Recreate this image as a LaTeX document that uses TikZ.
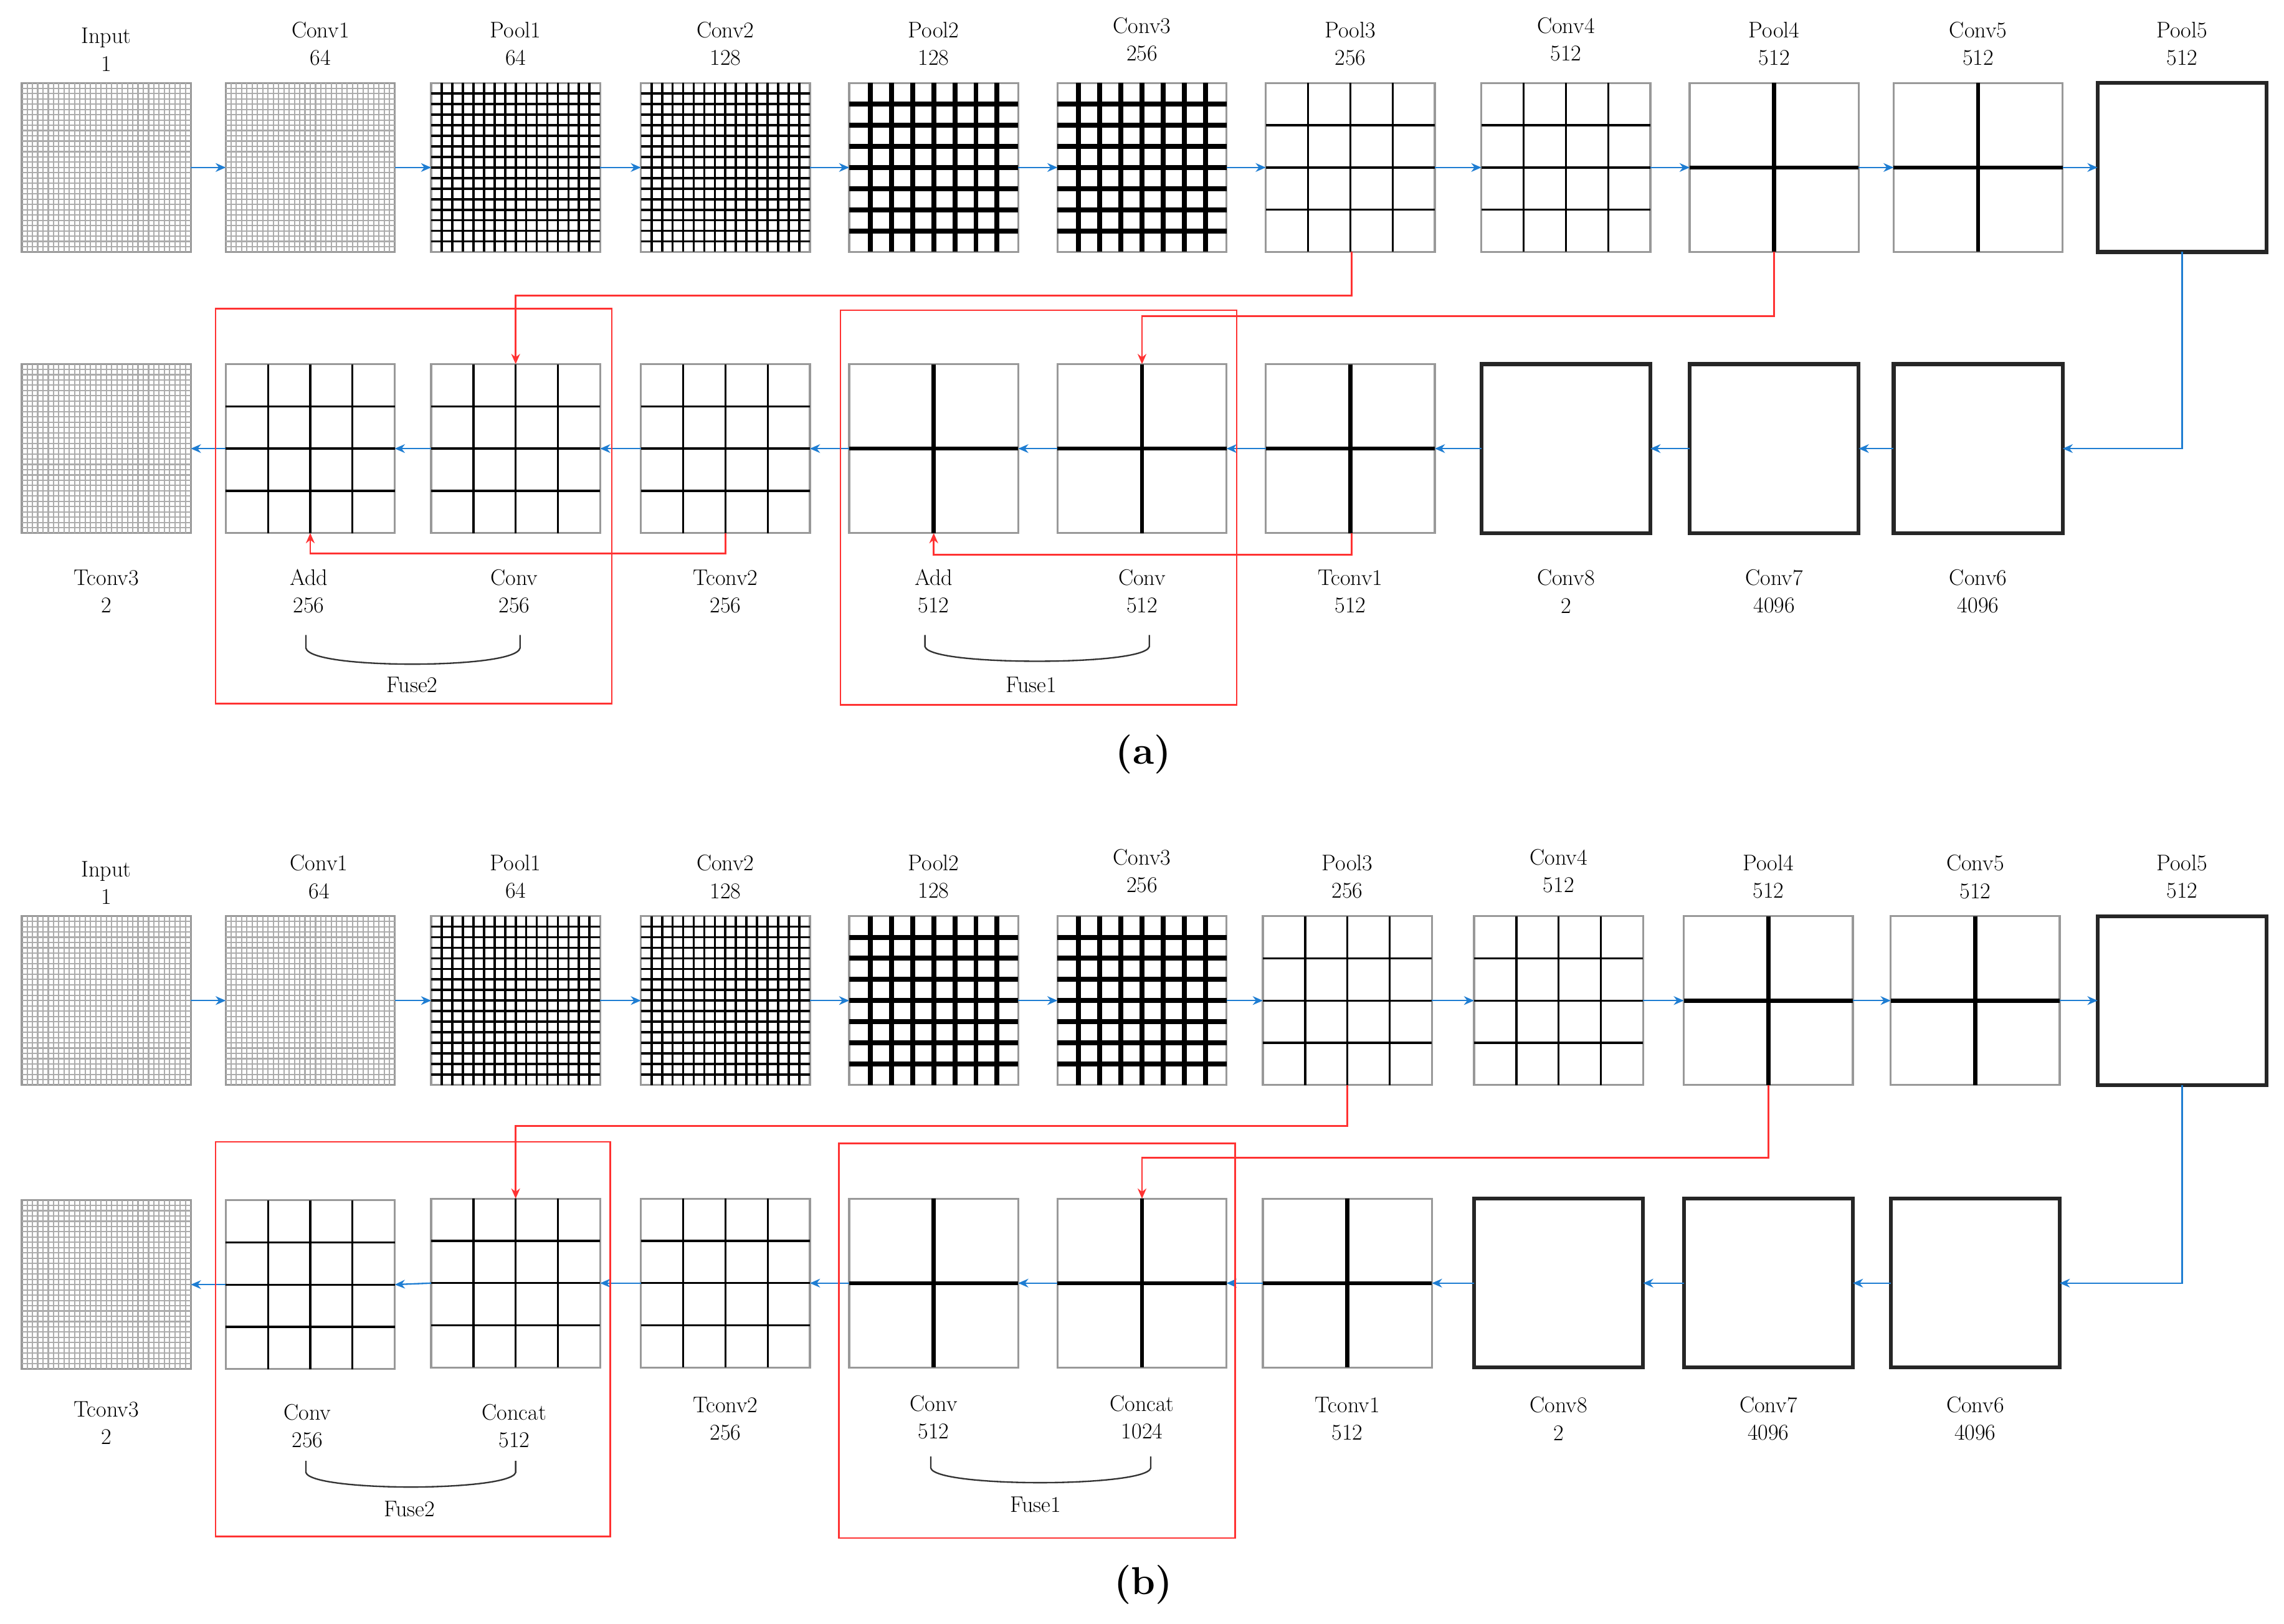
\documentclass[tikz,border=0pt]{standalone}
\usetikzlibrary{calc,arrows.meta}
\definecolor{blu}{RGB}{30,125,210}
\definecolor{rd}{RGB}{255,50,50}
\tikzset{
 fmap/.style={draw=gray!80,line width=0.07cm,minimum size=5.8cm,inner sep=0,outer sep=0},
 lbl/.style={font=\fontsize{22}{27}\selectfont,align=center,inner sep=0},
 barr/.style={draw=blu,line width=0.05cm,-{Stealth[length=0.35cm,width=0.3cm]}},
 rarr/.style={draw=rd,line width=0.06cm,-{Stealth[length=0.35cm,width=0.3cm]}},
 rbox/.style={draw=rd,line width=0.06cm},
 brace/.style={draw=black!80,line width=0.05cm},
 subcap/.style={font=\fontsize{38}{40}\selectfont\bfseries,inner sep=0},
 gA/.style={draw=gray!65,line width=0.045cm},
 gB/.style={draw=black,line width=0.08cm},
 gC/.style={draw=black,line width=0.17cm},
 gD/.style={draw=black,line width=0.07cm},
 gE/.style={draw=black,line width=0.14cm},
}
\newcommand\fm[5]{% name x y n gridstyle
 \node[fmap] (#1) at (#2,#3) {};
 \pgfmathtruncatemacro\nn{#4-1}%
 \ifnum\nn>0
 \foreach \k in {1,...,\nn}{%
  \draw[#5] ($(#1.north west)!\k/#4!(#1.north east)$) -- ($(#1.south west)!\k/#4!(#1.south east)$);
  \draw[#5] ($(#1.north west)!\k/#4!(#1.south west)$) -- ($(#1.north east)!\k/#4!(#1.south east)$);
 }%
 \fi}
\newcommand\fmone[3]{\node[fmap,draw=black!85,line width=0.13cm] (#1) at (#2,#3) {};}
\newcommand\lab[4]{\node[lbl] (#1) at (#2,#3) {#4};}
\begin{document}
\begin{tikzpicture}[x=0.05cm,y=-0.05cm]
\useasboundingbox (0,0) rectangle (1568,1115);
% ================= (a) =================
\fm{aIn}{73}{115}{32}{gA}
\fm{aC1}{213}{115}{32}{gA}
\fm{aP1}{354}{115}{16}{gB}
\fm{aC2}{498}{115}{16}{gB}
\fm{aP2}{641}{115}{8}{gC}
\fm{aC3}{784}{115}{8}{gC}
\fm{aP3}{927}{115}{4}{gD}
\fm{aC4}{1075}{115}{4}{gD}
\fm{aP4}{1218}{115}{2}{gE}
\fm{aC5}{1358}{115}{2}{gE}
\fmone{aP5}{1498}{115}
\lab{laIn}{73}{34}{Input\\1}
\lab{laC1}{220}{30}{Conv1\\64}
\lab{laP1}{354}{30}{Pool1\\64}
\lab{laC2}{498}{30}{Conv2\\128}
\lab{laP2}{641}{30}{Pool2\\128}
\lab{laC3}{784}{27}{Conv3\\256}
\lab{laP3}{927}{30}{Pool3\\256}
\lab{laC4}{1075}{27}{Conv4\\512}
\lab{laP4}{1218}{30}{Pool4\\512}
\lab{laC5}{1358}{30}{Conv5\\512}
\lab{laP5}{1498}{30}{Pool5\\512}
\foreach \a/\b in {aIn/aC1,aC1/aP1,aP1/aC2,aC2/aP2,aP2/aC3,aC3/aP3,aP3/aC4,aC4/aP4,aP4/aC5,aC5/aP5}
 \draw[barr] (\a.east) -- (\b.west);
% bottom row
\fm{aT3}{73}{308}{32}{gA}
\fm{aAdd2}{213}{308}{4}{gD}
\fm{aCv2}{354}{308}{4}{gD}
\fm{aT2}{498}{308}{4}{gD}
\fm{aAdd1}{641}{308}{2}{gE}
\fm{aCv1}{784}{308}{2}{gE}
\fm{aT1}{927}{308}{2}{gE}
\fmone{aC8}{1075}{308}
\fmone{aC7}{1218}{308}
\fmone{aC6}{1358}{308}
\lab{laT3}{73}{406}{Tconv3\\2}
\lab{laAdd2}{212}{406}{Add\\256}
\lab{laCv2}{353}{406}{Conv\\256}
\lab{laT2}{498}{406}{Tconv2\\256}
\lab{laAdd1}{641}{406}{Add\\512}
\lab{laCv1}{784}{406}{Conv\\512}
\lab{laT1}{927}{406}{Tconv1\\512}
\lab{laC8}{1075}{406}{Conv8\\2}
\lab{laC7}{1218}{406}{Conv7\\4096}
\lab{laC6}{1358}{406}{Conv6\\4096}
\draw[barr] (aP5.south) |- (aC6.east);
\foreach \a/\b in {aC6/aC7,aC7/aC8,aC8/aT1,aT1/aCv1,aCv1/aAdd1,aAdd1/aT2,aT2/aCv2,aCv2/aAdd2,aAdd2/aT3}
 \draw[barr] (\a.west) -- (\b.east);
% red links
\coordinate (r1) at (928,203); \coordinate (r2) at (1218,217);
\coordinate (r3) at (498,380); \coordinate (r4) at (928,381);
\draw[rarr] (aP3.south -| r1) -- (r1) -| (aCv2.north);
\draw[rarr] (aP4.south) -- (r2) -| (aCv1.north);
\draw[rarr] (aT2.south) -- (r3) -| (aAdd2.south);
\draw[rarr] (aT1.south -| r4) -- (r4) -| (aAdd1.south);
\draw[rbox] (148,212) rectangle (420,483);
\draw[rbox] (577,213) rectangle (849,484);
\draw[brace] (210,436) -- (210,445) .. controls (212,453) and (250,456) .. (283,456) .. controls (316,456) and (355,453) .. (357,445) -- (357,436);
\node[lbl] (fa2) at (283,470) {Fuse2};
\draw[brace] (635,436) -- (635,444) .. controls (637,451) and (675,454) .. (712,454) .. controls (749,454) and (787,451) .. (789,444) -- (789,436);
\node[lbl] (fa1) at (708,470) {Fuse1};
\node[subcap] (capa) at (785,518) {(a)};
% ================= (b) =================
\fm{bIn}{73}{687}{32}{gA}
\fm{bC1}{213}{687}{32}{gA}
\fm{bP1}{354}{687}{16}{gB}
\fm{bC2}{498}{687}{16}{gB}
\fm{bP2}{641}{687}{8}{gC}
\fm{bC3}{784}{687}{8}{gC}
\fm{bP3}{925}{687}{4}{gD}
\fm{bC4}{1070}{687}{4}{gD}
\fm{bP4}{1214}{687}{2}{gE}
\fm{bC5}{1356}{687}{2}{gE}
\fmone{bP5}{1498}{687}
\lab{lbIn}{73}{606}{Input\\1}
\lab{lbC1}{219}{602}{Conv1\\64}
\lab{lbP1}{354}{602}{Pool1\\64}
\lab{lbC2}{498}{602}{Conv2\\128}
\lab{lbP2}{641}{602}{Pool2\\128}
\lab{lbC3}{784}{598}{Conv3\\256}
\lab{lbP3}{925}{602}{Pool3\\256}
\lab{lbC4}{1070}{598}{Conv4\\512}
\lab{lbP4}{1214}{602}{Pool4\\512}
\lab{lbC5}{1356}{602}{Conv5\\512}
\lab{lbP5}{1498}{602}{Pool5\\512}
\foreach \a/\b in {bIn/bC1,bC1/bP1,bP1/bC2,bC2/bP2,bP2/bC3,bC3/bP3,bP3/bC4,bC4/bP4,bP4/bC5,bC5/bP5}
 \draw[barr] (\a.east) -- (\b.west);
\fm{bT3}{73}{882}{32}{gA}
\fm{bCv2}{213}{882}{4}{gD}
\fm{bCc2}{354}{881}{4}{gD}
\fm{bT2}{498}{881}{4}{gD}
\fm{bCv1}{641}{881}{2}{gE}
\fm{bCc1}{784}{881}{2}{gE}
\fm{bT1}{925}{881}{2}{gE}
\fmone{bC8}{1070}{881}
\fmone{bC7}{1214}{881}
\fmone{bC6}{1356}{881}
\lab{lbT3}{73}{977}{Tconv3\\2}
\lab{lbCv2}{211}{979}{Conv\\256}
\lab{lbCc2}{353}{979}{Concat\\512}
\lab{lbT2}{498}{974}{Tconv2\\256}
\lab{lbCv1}{641}{973}{Conv\\512}
\lab{lbCc1}{784}{973}{Concat\\1024}
\lab{lbT1}{925}{974}{Tconv1\\512}
\lab{lbC8}{1070}{974}{Conv8\\2}
\lab{lbC7}{1214}{974}{Conv7\\4096}
\lab{lbC6}{1356}{974}{Conv6\\4096}
\draw[barr] (bP5.south) |- (bC6.east);
\foreach \a/\b in {bC6/bC7,bC7/bC8,bC8/bT1,bT1/bCc1,bCc1/bCv1,bCv1/bT2,bT2/bCc2,bCc2/bCv2,bCv2/bT3}
 \draw[barr] (\a.west) -- (\b.east);
\coordinate (s1) at (925,773); \coordinate (s2) at (1214,795);
\draw[rarr] (bP3.south) -- (s1) -| (bCc2.north);
\draw[rarr] (bP4.south) -- (s2) -| (bCc1.north);
\draw[rbox] (148,784) rectangle (419,1055);
\draw[rbox] (576,785) rectangle (848,1056);
\draw[brace] (210,1003) -- (210,1011) .. controls (212,1018) and (250,1021) .. (282,1021) .. controls (314,1021) and (352,1018) .. (354,1011) -- (354,1003);
\node[lbl] (fb2) at (281,1036) {Fuse2};
\draw[brace] (639,1000) -- (639,1008) .. controls (641,1015) and (680,1018) .. (714,1018) .. controls (748,1018) and (788,1015) .. (790,1008) -- (790,1000);
\node[lbl] (fb1) at (711,1033) {Fuse1};
\node[subcap] (capb) at (785,1088) {(b)};
\end{tikzpicture}
\end{document}
